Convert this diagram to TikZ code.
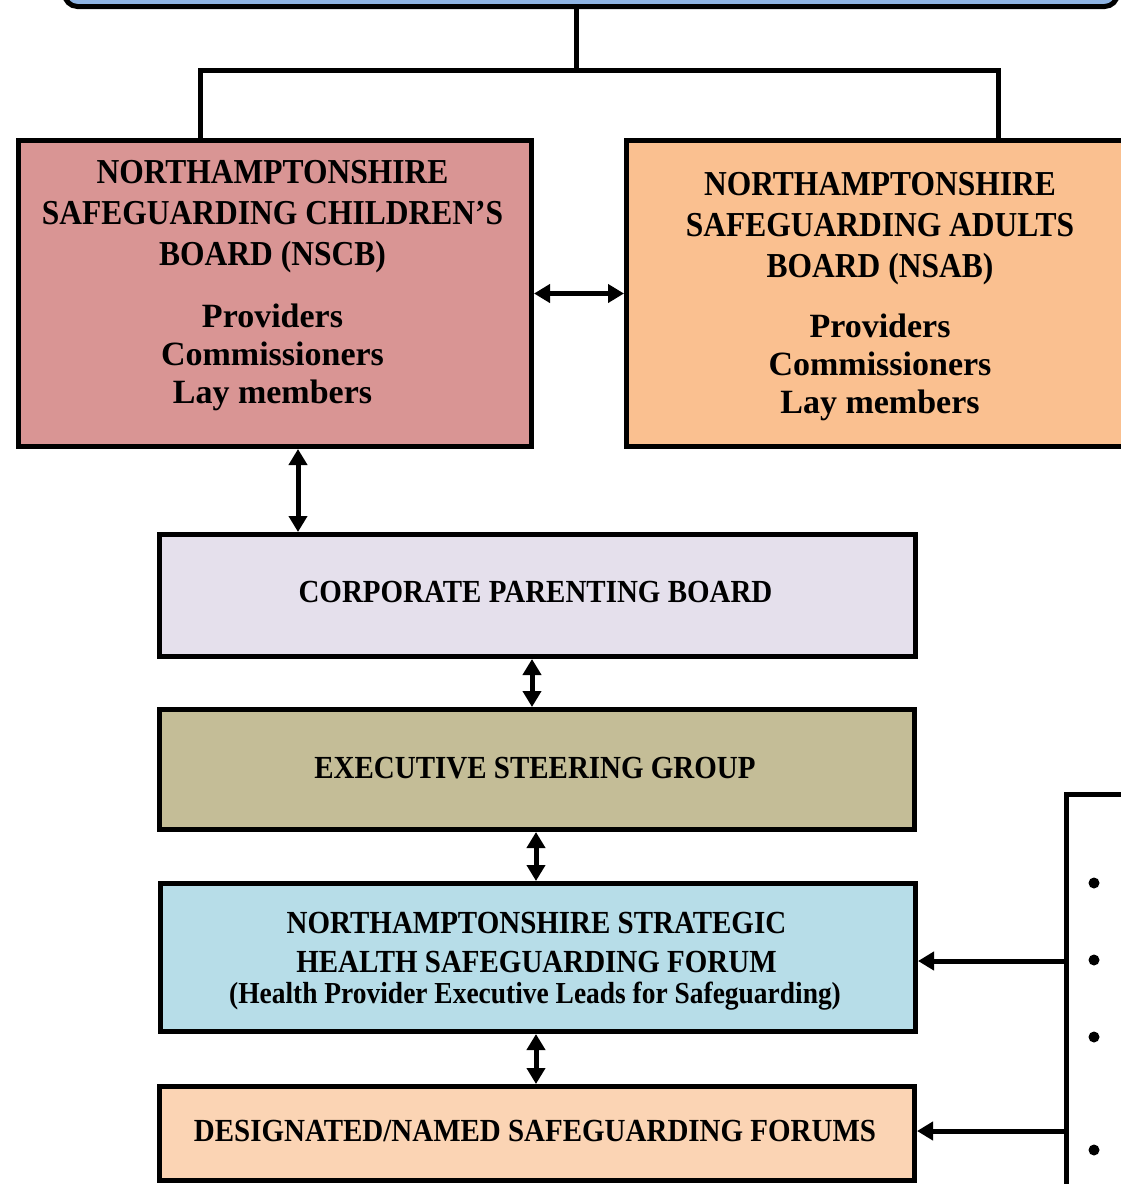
\documentclass[tikz,border=0pt]{standalone}
\usepackage{fontspec}
\setmainfont{Liberation Serif}
\newfontfamily\narrowserif{Liberation Serif}[FakeStretch=0.9]
\usetikzlibrary{arrows.meta,calc}
\definecolor{topblue}{HTML}{8EB4E3}
\definecolor{nscbfill}{HTML}{D99594}
\definecolor{nsabfill}{HTML}{FAC090}
\definecolor{cpbfill}{HTML}{E5E0EC}
\definecolor{esgfill}{HTML}{C4BD97}
\definecolor{shsffill}{HTML}{B7DDE8}
\definecolor{dsffill}{HTML}{FBD4B4}
\begin{document}
\begin{tikzpicture}[x=1pt,y=-1pt,
  box/.style={draw=black, line width=5pt, rectangle, inner sep=0pt, anchor=north west},
  conn/.style={line width=5pt},
  dbl/.style={conn, {Triangle[length=16pt,width=18pt]}-{Triangle[length=16pt,width=18pt]}},
  one/.style={conn, -{Triangle[length=16pt,width=18pt]}},
  bigt/.style={font=\narrowserif\bfseries\fontsize{35}{41}\selectfont, align=center, anchor=base, inner sep=0pt},
  memt/.style={font=\bfseries\fontsize{34}{38}\selectfont, align=center, anchor=base, inner sep=0pt},
  lowt/.style={font=\narrowserif\bfseries\fontsize{32.2}{39}\selectfont, align=center, anchor=base, inner sep=0pt},
  parent/.style={font=\narrowserif\bfseries\fontsize{30.5}{33}\selectfont, anchor=base, inner sep=0pt},
  bulletdot/.style={circle, fill=black, inner sep=0pt, minimum size=11pt}]
\useasboundingbox (0,0) rectangle (1121,1184);
\clip (0,0) rectangle (1121,1184);
% boxes
\node[box, fill=topblue, rounded corners=13pt, minimum width=1053pt, minimum height=100pt] (top) at (62,-96) {};
\node[box, fill=nscbfill, minimum width=513pt, minimum height=306pt] (nscb) at (16,138) {};
\node[box, fill=nsabfill, minimum width=560pt, minimum height=306pt] (nsab) at (624,138) {};
\node[box, fill=cpbfill, minimum width=756pt, minimum height=122pt] (cpb) at (157,532) {};
\node[box, fill=esgfill, minimum width=755pt, minimum height=120pt] (esg) at (157,707) {};
\node[box, fill=shsffill, minimum width=755pt, minimum height=148pt] (shsf) at (158,881) {};
\node[box, fill=dsffill, minimum width=755pt, minimum height=94pt] (dsf) at (157,1084) {};
\node[box, fill=white, minimum width=200pt, minimum height=500pt] (rbox) at (1064,792) {};
% texts (base anchor = baseline of last line)
\node[bigt] (nscbt) at (272.5,265) {NORTHAMPTONSHIRE\\SAFEGUARDING CHILDREN’S\\BOARD (NSCB)};
\node[memt] (nscbm) at (272.5,403) {Providers\\Commissioners\\Lay members};
\node[bigt] (nsabt) at (880,277) {NORTHAMPTONSHIRE\\SAFEGUARDING ADULTS\\BOARD (NSAB)};
\node[memt] (nsabm) at (880,413) {Providers\\Commissioners\\Lay members};
\node[lowt] (cpbt) at (535.5,602) {CORPORATE PARENTING BOARD};
\node[lowt] (esgt) at (535,778) {EXECUTIVE STEERING GROUP};
\node[lowt] (shsft) at (536.5,972) {NORTHAMPTONSHIRE STRATEGIC\\HEALTH SAFEGUARDING FORUM};
\node[parent] (shsfp) at (535,1003) {(Health Provider Executive Leads for Safeguarding)};
\node[lowt] (dsft) at (535,1141) {DESIGNATED/NAMED SAFEGUARDING FORUMS};
% bullets
\node[bulletdot] (b1) at (1094,883) {};
\node[bulletdot] (b2) at (1094,960) {};
\node[bulletdot] (b3) at (1094,1037) {};
\node[bulletdot] (b4) at (1094,1150) {};
% connectors
\coordinate (tj) at (576,70);
\coordinate (lj) at (200,70);
\coordinate (rj) at (998,70);
\draw[conn] (tj |- top.south) -- (tj);
\draw[conn] (lj |- nscb.north) -- (lj) -- (rj) -- (rj |- nsab.north);
\draw[dbl] (nscb.east) -- (nsab.west);
\coordinate (ax) at (298,0);
\coordinate (bx) at (532,0);
\coordinate (cx) at (536,0);
\draw[dbl] (ax |- nscb.south) -- (ax |- cpb.north);
\draw[dbl] (bx |- cpb.south) -- (bx |- esg.north);
\draw[dbl] (cx |- esg.south) -- (cx |- shsf.north);
\draw[dbl] (cx |- shsf.south) -- (cx |- dsf.north);
\coordinate (ay) at (0,961);
\coordinate (by) at (0,1131);
\draw[one] (rbox.west |- ay) -- (shsf.east |- ay);
\draw[one] (rbox.west |- by) -- (dsf.east |- by);
\end{tikzpicture}
\end{document}
